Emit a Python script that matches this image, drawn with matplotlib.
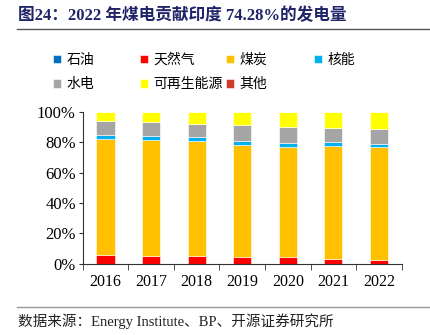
import matplotlib
matplotlib.use('Agg')
import matplotlib.pyplot as plt
import numpy as np

years = ['2016', '2017', '2018', '2019', '2020', '2021', '2022']
# shares of generation (%)
oil = [0.3, 0.3, 0.3, 0.3, 0.3, 0.3, 0.3]
gas = [5.6, 5.2, 4.9, 4.1, 4.5, 3.2, 2.3]
coal = [76.4, 75.9, 75.4, 73.8, 71.8, 74.2, 74.0]
nuclear = [2.4, 2.7, 2.4, 2.6, 2.9, 2.4, 2.2]
hydro = [9.2, 9.1, 8.9, 10.2, 10.5, 9.2, 9.6]
renew = [6.1, 6.8, 8.1, 9.0, 10.0, 10.7, 11.6]
other = [0.0, 0.0, 0.0, 0.0, 0.0, 0.0, 0.0]

series = [('石油', oil, '#0070C0'), ('天然气', gas, '#FF0000'), ('煤炭', coal, '#FFC000'),
          ('核能', nuclear, '#00B0F0'), ('水电', hydro, '#A5A5A5'),
          ('可再生能源', renew, '#FFFF00'), ('其他', other, '#D03A2B')]

serif = ['Liberation Serif', 'Noto Sans CJK SC', 'DejaVu Sans']
cjk = ['Noto Sans CJK SC', 'DejaVu Sans']

fig = plt.figure(figsize=(4.31, 3.35), dpi=100)
ax = fig.add_axes([0.192, 0.212, 0.74, 0.455])

x = np.arange(len(years))
bottom = np.zeros(len(years))
handles = []
for name, vals, col in series:
    h = ax.bar(x, vals, 0.4, bottom=bottom, color=col, edgecolor='white', linewidth=0.4, label=name)
    handles.append(h)
    bottom += np.array(vals)

ax.set_xlim(-0.5, len(years) - 0.5)
ax.set_ylim(0, 100)
ax.set_yticks(np.arange(0, 101, 20))
ax.set_yticklabels(['%d%%' % v for v in range(0, 101, 20)], family=serif, fontsize=12)
ax.set_xticks(x)
ax.set_xticklabels(years, family=serif, fontsize=11.5)
ax.set_xticks(np.arange(-0.5, len(years), 1), minor=True)
ax.tick_params(axis='x', which='major', length=0, pad=7)
ax.tick_params(axis='x', which='minor', length=4, direction='out', color='#333333')
ax.tick_params(axis='y', length=3, direction='out', color='#333333', pad=2)
for s in ['top', 'right']:
    ax.spines[s].set_visible(False)
ax.spines['left'].set_color('#333333')
ax.spines['bottom'].set_color('#333333')

# legend in a fixed grid, 4 per row
col_x = [0.122, 0.324, 0.524, 0.728]
row_y = [0.821, 0.749]
for i, h in enumerate(handles):
    fig.legend(handles=[h], loc='center left', bbox_to_anchor=(col_x[i % 4], row_y[i // 4]),
               frameon=False, prop={'family': cjk, 'size': 10}, handlelength=0.6,
               handleheight=0.6, handletextpad=0.4, borderaxespad=0, borderpad=0)

fig.text(0.042, 0.952, '图24：2022 年煤电贡献印度 74.28%的发电量', family=serif,
         fontsize=12, fontweight='bold', color='#1F2468', va='center')
fig.add_artist(plt.Line2D([0.04, 0.995], [0.912, 0.912], color='#555555', linewidth=1.0))
fig.add_artist(plt.Line2D([0.04, 0.995], [0.084, 0.084], color='#999999', linewidth=1.0))
fig.text(0.042, 0.04, '数据来源：Energy Institute、BP、开源证券研究所', family=serif,
         fontsize=10.5, color='#222222', va='center')

plt.savefig('out.png')
